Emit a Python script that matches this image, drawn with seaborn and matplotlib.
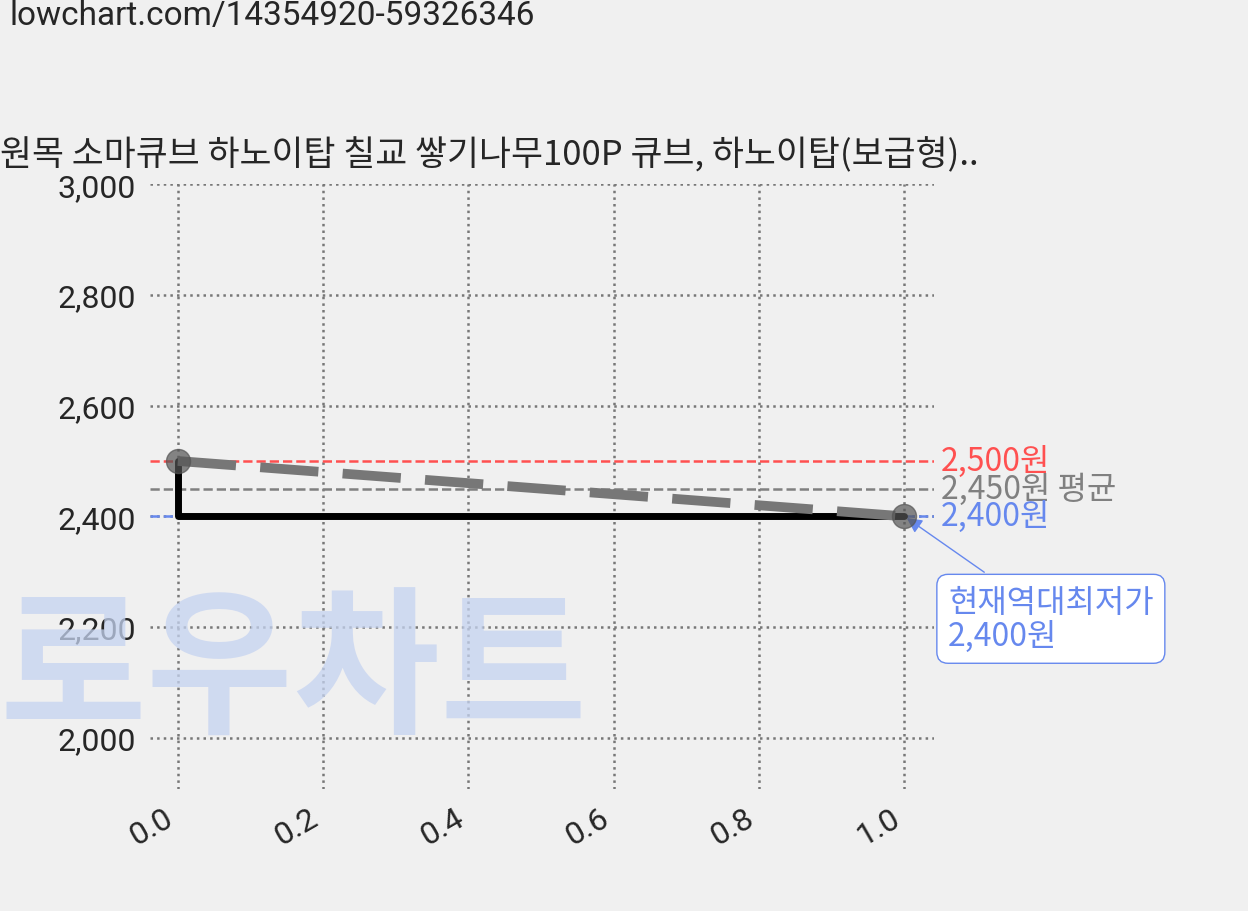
import matplotlib
matplotlib.use("Agg")
import matplotlib.pyplot as plt
import seaborn as sns
import pandas as pd

x = [0.0, 1.0]
prices = [2500, 2400]
max_p, avg_p, min_p = 2500, 2450, 2400
title = "원목 소마큐브 하노이탑 칠교 쌓기나무100P 큐브, 하노이탑(보급형).."
yticks = [2000, 2200, 2400, 2600, 2800, 3000]
xticks = [0.0, 0.2, 0.4, 0.6, 0.8, 1.0]

sns.set_style("white")
plt.rcParams['font.family'] = ['Noto Sans CJK KR', 'DejaVu Sans']
fig = plt.figure(figsize=(12.48, 9.12), dpi=100, facecolor="#f0f0f0")
ax = fig.add_axes([0.120, 0.134, 0.628, 0.663], facecolor="#f0f0f0")
df = pd.DataFrame({"x": x, "p": prices})

fig.text(0.0, 0.26, "로우차트", fontsize=115, fontweight="black", color="#c5d3f0",
         alpha=0.75, ha="left", va="center", style="italic", zorder=0)

ax.axhline(max_p, color="#ff5050", ls="--", lw=1.8)
ax.axhline(avg_p, color="#808080", ls="--", lw=1.8)
ax.axhline(min_p, color="#6688ee", ls="--", lw=1.8)
ax.plot(df.x, df.p, drawstyle="steps-pre", color="black", lw=5, zorder=3)
sns.lineplot(data=df, x="x", y="p", ax=ax, color="#777777", lw=7, zorder=4)
ax.lines[-1].set_dashes([6, 2.5])
ax.scatter(df.x, df.p, s=300, color="#555555", alpha=0.7, zorder=5)

ax.set_xlim(-0.0386, 1.04)
ax.set_ylim(1908, 3000)
ax.set_xticks(xticks)
ax.set_xticklabels([f"{v:.1f}" for v in xticks], rotation=30, ha="right", fontsize=23, family="Roboto")
ax.set_yticks(yticks)
ax.set_yticklabels([f"{v:,}" for v in yticks], fontsize=23, family="Roboto")
ax.grid(True, ls=":", color="#777777", lw=1.8)
for s in ax.spines.values():
    s.set_visible(False)
ax.set_xlabel(""); ax.set_ylabel("")
ax.tick_params(length=0, pad=10)

ax.text(1.05, max_p, f"{max_p:,}원", color="#ff5050", fontsize=23, va="center")
ax.text(1.05, avg_p, f"{avg_p:,}원 평균", color="#808080", fontsize=23, va="center")
ax.text(1.05, min_p, f"{min_p:,}원", color="#6688ee", fontsize=23, va="center")
ax.annotate(f"현재역대최저가\n{min_p:,}원", xy=(1.0, min_p), xytext=(1.06, 2215),
            color="#6688ee", fontsize=23, ha="left", va="center", annotation_clip=False,
            linespacing=1.1,
            bbox=dict(boxstyle="round,pad=0.35", fc="white", ec="#6688ee"),
            arrowprops=dict(arrowstyle="-|>", color="#6688ee", lw=1))

fig.text(0.008, 0.982, "lowchart.com/14354920-59326346", fontsize=24, va="center", family="Roboto")
fig.text(0.0, 0.83, title, fontsize=25, va="center")
fig.savefig("out.png", dpi=100, facecolor=fig.get_facecolor())
